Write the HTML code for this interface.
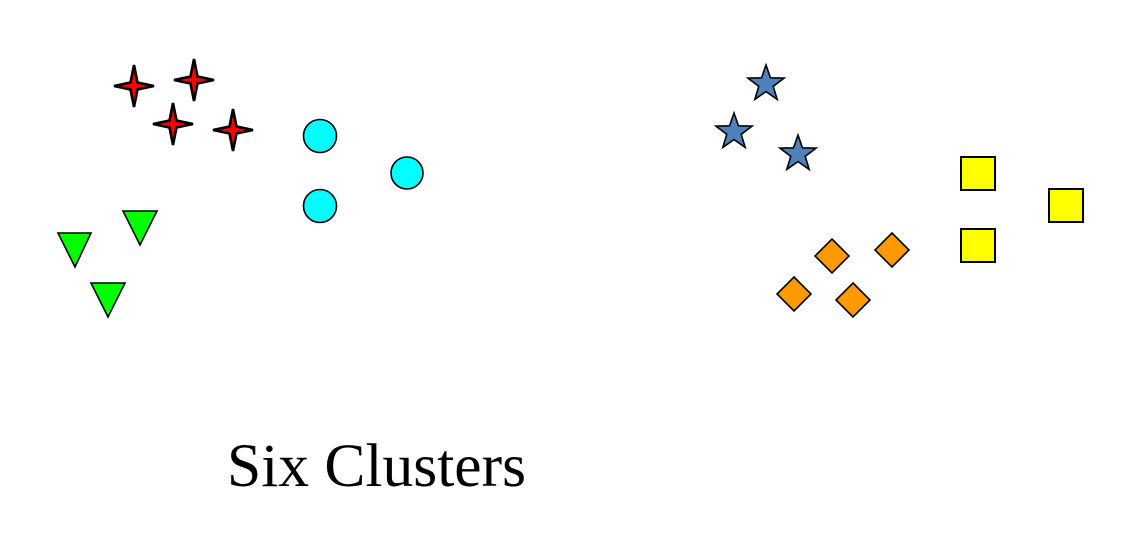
<!DOCTYPE html>
<html><head><meta charset="utf-8"><style>
html,body{margin:0;padding:0;background:#fff;width:1132px;height:544px;overflow:hidden;position:relative}
.t{position:absolute;left:227px;top:426px;font-family:"Liberation Serif","DejaVu Serif","Times New Roman",serif;font-size:61.5px;line-height:80px;color:#000;white-space:nowrap}
svg{position:absolute;left:0;top:0}
</style></head><body>
<svg width="1132" height="544" viewBox="0 0 1132 544" xmlns="http://www.w3.org/2000/svg">
<defs>
<polygon id="s4" points="0,-21 3.5,-3.5 20,0 3.5,3.5 0,21 -3.5,3.5 -20,0 -3.5,-3.5" fill="#ff0000" stroke="#000" stroke-width="2.6" stroke-linejoin="miter"/>
<polygon id="s5" points="0,-19 4.47,-6.15 18.07,-5.87 7.23,2.35 11.17,15.37 0,7.6 -11.17,15.37 -7.23,2.35 -18.07,-5.87 -4.47,-6.15" fill="#4f81bd" stroke="#000" stroke-width="1.6"/>
<rect id="sq" x="0" y="0" width="34" height="33" fill="#ffff00" stroke="#000" stroke-width="2"/>
<polygon id="dm" points="0,-17 17,0 0,17 -17,0" fill="#ff9900" stroke="#000" stroke-width="1.6"/>
</defs>
<use href="#s4" x="134" y="86"/>
<use href="#s4" x="194" y="80"/>
<use href="#s4" x="173" y="124"/>
<use href="#s4" x="233" y="130"/>
<g fill="#00ffff" stroke="#000" stroke-width="1.6">
<circle cx="320" cy="136" r="16.5"/>
<circle cx="320" cy="206" r="16.5"/>
<circle cx="407" cy="173" r="16"/>
</g>
<g fill="#00ff00" stroke="#000" stroke-width="1.6" stroke-linejoin="miter">
<polygon points="123,211 157,211 140,245"/>
<polygon points="58,233 91,233 75,267"/>
<polygon points="91,283 125,283 108,317"/>
</g>
<use href="#s5" x="766" y="84"/>
<use href="#s5" x="734" y="132"/>
<use href="#s5" x="798" y="154"/>
<use href="#sq" x="961" y="157"/>
<use href="#sq" x="961" y="229"/>
<use href="#sq" x="1049" y="189"/>
<use href="#dm" x="832" y="256"/>
<use href="#dm" x="892" y="250"/>
<use href="#dm" x="794" y="294"/>
<use href="#dm" x="853" y="300"/>
</svg>
<div class="t">Six Clusters</div>
</body></html>
